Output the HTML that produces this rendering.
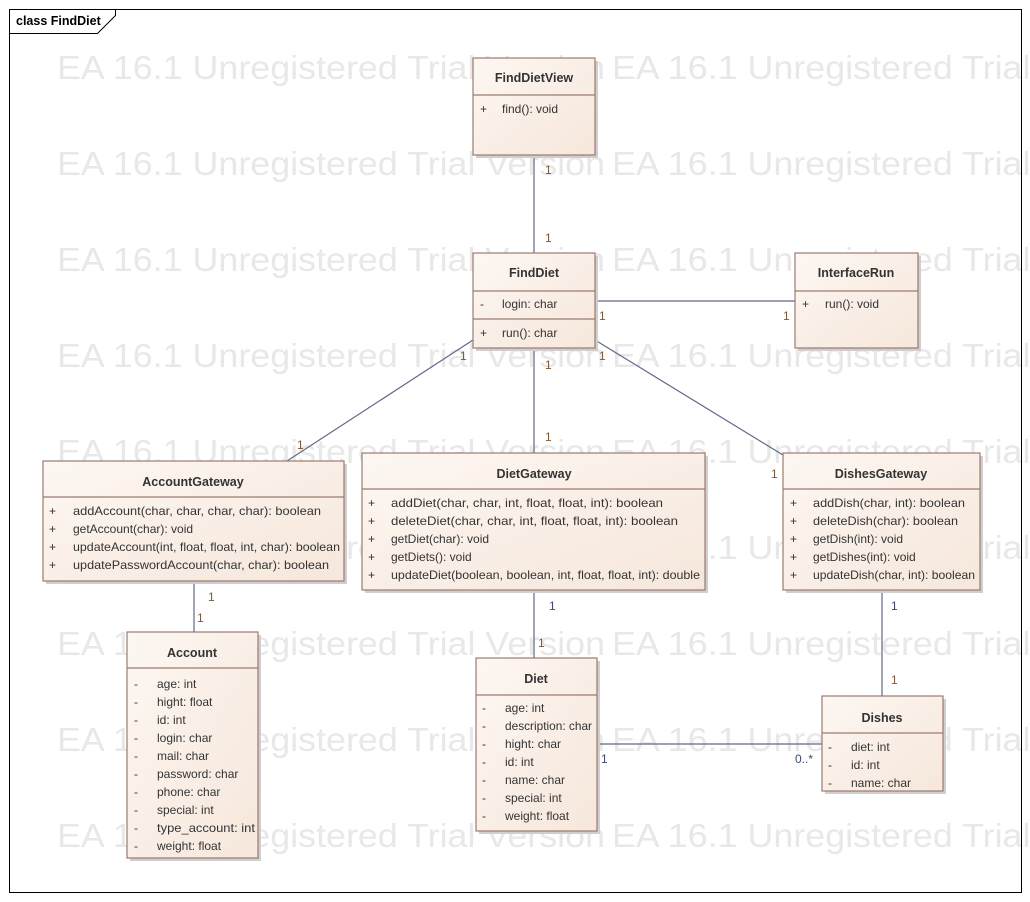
<!DOCTYPE html>
<html><head><meta charset="utf-8"><style>
html,body{margin:0;padding:0;background:#fff;}
svg{display:block;}
text{font-family:"Liberation Sans",sans-serif;}
.wm{font-size:33px;fill:#e8e8e8;}
.n{font-size:12.5px;font-weight:bold;fill:#333;}
.m{font-size:12px;fill:#333;}
.l{font-size:12px;fill:#7a5a3a;}
.lb{font-size:12px;fill:#3a4a70;}
.bx{fill:url(#g);stroke:#9b7b70;stroke-width:1.2;}
.sh{fill:#cfcfcf;}
.sep{stroke:#9b7b70;stroke-width:1.2;}
.c{stroke:#5f6888;stroke-width:1.2;fill:none;}
</style></head><body>
<svg width="1030" height="902" viewBox="0 0 1030 902" xmlns="http://www.w3.org/2000/svg">
<defs><linearGradient id="g" x1="0" y1="0" x2="1" y2="1"><stop offset="0" stop-color="#fdf7f2"/><stop offset="1" stop-color="#f6e7db"/></linearGradient></defs>
<rect x="0" y="0" width="1030" height="902" fill="#fff"/>
<g class="wm">
<text x="57" y="79" textLength="548" lengthAdjust="spacingAndGlyphs">EA 16.1 Unregistered Trial Version</text><text x="612" y="79" textLength="548" lengthAdjust="spacingAndGlyphs">EA 16.1 Unregistered Trial Version</text>
<text x="57" y="175" textLength="548" lengthAdjust="spacingAndGlyphs">EA 16.1 Unregistered Trial Version</text><text x="612" y="175" textLength="548" lengthAdjust="spacingAndGlyphs">EA 16.1 Unregistered Trial Version</text>
<text x="57" y="271" textLength="548" lengthAdjust="spacingAndGlyphs">EA 16.1 Unregistered Trial Version</text><text x="612" y="271" textLength="548" lengthAdjust="spacingAndGlyphs">EA 16.1 Unregistered Trial Version</text>
<text x="57" y="367" textLength="548" lengthAdjust="spacingAndGlyphs">EA 16.1 Unregistered Trial Version</text><text x="612" y="367" textLength="548" lengthAdjust="spacingAndGlyphs">EA 16.1 Unregistered Trial Version</text>
<text x="57" y="463" textLength="548" lengthAdjust="spacingAndGlyphs">EA 16.1 Unregistered Trial Version</text><text x="612" y="463" textLength="548" lengthAdjust="spacingAndGlyphs">EA 16.1 Unregistered Trial Version</text>
<text x="57" y="559" textLength="548" lengthAdjust="spacingAndGlyphs">EA 16.1 Unregistered Trial Version</text><text x="612" y="559" textLength="548" lengthAdjust="spacingAndGlyphs">EA 16.1 Unregistered Trial Version</text>
<text x="57" y="655" textLength="548" lengthAdjust="spacingAndGlyphs">EA 16.1 Unregistered Trial Version</text><text x="612" y="655" textLength="548" lengthAdjust="spacingAndGlyphs">EA 16.1 Unregistered Trial Version</text>
<text x="57" y="751" textLength="548" lengthAdjust="spacingAndGlyphs">EA 16.1 Unregistered Trial Version</text><text x="612" y="751" textLength="548" lengthAdjust="spacingAndGlyphs">EA 16.1 Unregistered Trial Version</text>
<text x="57" y="847" textLength="548" lengthAdjust="spacingAndGlyphs">EA 16.1 Unregistered Trial Version</text><text x="612" y="847" textLength="548" lengthAdjust="spacingAndGlyphs">EA 16.1 Unregistered Trial Version</text>
</g>
<rect x="9.5" y="9.5" width="1012" height="883" fill="none" stroke="#000" stroke-width="1"/>
<path d="M9.5 33.5 H97.5 L115.5 15.5 V9.5" fill="none" stroke="#000" stroke-width="1"/>
<text x="16" y="25" style="font-size:12.5px;font-weight:bold;fill:#000">class FindDiet</text>

<!-- connectors -->
<line class="c" x1="534" y1="155" x2="534" y2="253"/>
<line class="c" x1="595" y1="301" x2="795" y2="301"/>
<line class="c" x1="473" y1="340" x2="287" y2="461"/>
<line class="c" x1="534" y1="348" x2="534" y2="453"/>
<line class="c" x1="595" y1="340" x2="783" y2="455"/>
<line class="c" x1="194" y1="581" x2="194" y2="632"/>
<line class="c" x1="534" y1="590" x2="534" y2="658"/>
<line class="c" x1="882" y1="590" x2="882" y2="696"/>
<line class="c" x1="597" y1="744" x2="822" y2="744"/>
<g class="l">
<text x="545" y="174">1</text><text x="545" y="242">1</text>
<text x="599" y="320">1</text><text x="783" y="320">1</text>
<text x="460" y="360">1</text><text x="297" y="449">1</text>
<text x="545" y="369">1</text><text x="545" y="441">1</text>
<text x="599" y="360">1</text><text x="771" y="478">1</text>
<text x="208" y="601">1</text><text x="197" y="622">1</text>
<text x="538" y="647">1</text><text x="891" y="684">1</text>
</g>
<g class="lb">
<text x="549" y="610">1</text><text x="891" y="610">1</text>
<text x="601" y="763">1</text><text x="795" y="763">0..*</text>
</g>

<!-- FindDietView -->
<rect class="sh" x="476" y="61" width="122" height="97"/>
<rect class="bx" x="473" y="58" width="122" height="97"/>
<line class="sep" x1="473" y1="95" x2="595" y2="95"/>
<text class="n" x="534" y="82" text-anchor="middle">FindDietView</text>
<text class="m" x="480" y="113">+</text><text class="m" x="502" y="113">find(): void</text>

<!-- FindDiet -->
<rect class="sh" x="476" y="256" width="122" height="95"/>
<rect class="bx" x="473" y="253" width="122" height="95"/>
<line class="sep" x1="473" y1="291" x2="595" y2="291"/>
<line class="sep" x1="473" y1="319" x2="595" y2="319"/>
<text class="n" x="534" y="277" text-anchor="middle">FindDiet</text>
<text class="m" x="480" y="308">-</text><text class="m" x="502" y="308">login: char</text>
<text class="m" x="480" y="337">+</text><text class="m" x="502" y="337">run(): char</text>

<!-- InterfaceRun -->
<rect class="sh" x="798" y="256" width="123" height="95"/>
<rect class="bx" x="795" y="253" width="123" height="95"/>
<line class="sep" x1="795" y1="291" x2="918" y2="291"/>
<text class="n" x="856" y="277" text-anchor="middle">InterfaceRun</text>
<text class="m" x="802" y="308">+</text><text class="m" x="825" y="308">run(): void</text>

<!-- AccountGateway -->
<rect class="sh" x="46" y="464" width="301" height="120"/>
<rect class="bx" x="43" y="461" width="301" height="120"/>
<line class="sep" x1="43" y1="497" x2="344" y2="497"/>
<text class="n" x="193" y="486" text-anchor="middle">AccountGateway</text>
<g class="m">
<text x="49" y="515">+</text><text x="73" y="515" textLength="248" lengthAdjust="spacingAndGlyphs">addAccount(char, char, char, char): boolean</text>
<text x="49" y="533">+</text><text x="73" y="533">getAccount(char): void</text>
<text x="49" y="551">+</text><text x="73" y="551" textLength="267" lengthAdjust="spacingAndGlyphs">updateAccount(int, float, float, int, char): boolean</text>
<text x="49" y="569">+</text><text x="73" y="569" textLength="256" lengthAdjust="spacingAndGlyphs">updatePasswordAccount(char, char): boolean</text>
</g>

<!-- DietGateway -->
<rect class="sh" x="365" y="456" width="343" height="137"/>
<rect class="bx" x="362" y="453" width="343" height="137"/>
<line class="sep" x1="362" y1="489" x2="705" y2="489"/>
<text class="n" x="534" y="478" text-anchor="middle">DietGateway</text>
<g class="m">
<text x="368" y="507">+</text><text x="391" y="507" textLength="272" lengthAdjust="spacingAndGlyphs">addDiet(char, char, int, float, float, int): boolean</text>
<text x="368" y="525">+</text><text x="391" y="525" textLength="287" lengthAdjust="spacingAndGlyphs">deleteDiet(char, char, int, float, float, int): boolean</text>
<text x="368" y="543">+</text><text x="391" y="543">getDiet(char): void</text>
<text x="368" y="561">+</text><text x="391" y="561">getDiets(): void</text>
<text x="368" y="579">+</text><text x="391" y="579" textLength="309" lengthAdjust="spacingAndGlyphs">updateDiet(boolean, boolean, int, float, float, int): double</text>
</g>

<!-- DishesGateway -->
<rect class="sh" x="786" y="456" width="197" height="137"/>
<rect class="bx" x="783" y="453" width="197" height="137"/>
<line class="sep" x1="783" y1="489" x2="980" y2="489"/>
<text class="n" x="881" y="478" text-anchor="middle">DishesGateway</text>
<g class="m">
<text x="790" y="507">+</text><text x="813" y="507" textLength="152" lengthAdjust="spacingAndGlyphs">addDish(char, int): boolean</text>
<text x="790" y="525">+</text><text x="813" y="525" textLength="145" lengthAdjust="spacingAndGlyphs">deleteDish(char): boolean</text>
<text x="790" y="543">+</text><text x="813" y="543">getDish(int): void</text>
<text x="790" y="561">+</text><text x="813" y="561">getDishes(int): void</text>
<text x="790" y="579">+</text><text x="813" y="579" textLength="162" lengthAdjust="spacingAndGlyphs">updateDish(char, int): boolean</text>
</g>

<!-- Account -->
<rect class="sh" x="130" y="635" width="131" height="226"/>
<rect class="bx" x="127" y="632" width="131" height="226"/>
<line class="sep" x1="127" y1="668" x2="258" y2="668"/>
<text class="n" x="192" y="657" text-anchor="middle">Account</text>
<g class="m">
<text x="134" y="688">-</text><text x="157" y="688">age: int</text>
<text x="134" y="706">-</text><text x="157" y="706">hight: float</text>
<text x="134" y="724">-</text><text x="157" y="724">id: int</text>
<text x="134" y="742">-</text><text x="157" y="742">login: char</text>
<text x="134" y="760">-</text><text x="157" y="760">mail: char</text>
<text x="134" y="778">-</text><text x="157" y="778">password: char</text>
<text x="134" y="796">-</text><text x="157" y="796">phone: char</text>
<text x="134" y="814">-</text><text x="157" y="814">special: int</text>
<text x="134" y="832">-</text><text x="157" y="832" textLength="98" lengthAdjust="spacingAndGlyphs">type_account: int</text>
<text x="134" y="850">-</text><text x="157" y="850">weight: float</text>
</g>

<!-- Diet -->
<rect class="sh" x="479" y="661" width="121" height="173"/>
<rect class="bx" x="476" y="658" width="121" height="173"/>
<line class="sep" x1="476" y1="695" x2="597" y2="695"/>
<text class="n" x="536" y="683" text-anchor="middle">Diet</text>
<g class="m">
<text x="482" y="712">-</text><text x="505" y="712">age: int</text>
<text x="482" y="730">-</text><text x="505" y="730" textLength="87" lengthAdjust="spacingAndGlyphs">description: char</text>
<text x="482" y="748">-</text><text x="505" y="748">hight: char</text>
<text x="482" y="766">-</text><text x="505" y="766">id: int</text>
<text x="482" y="784">-</text><text x="505" y="784">name: char</text>
<text x="482" y="802">-</text><text x="505" y="802">special: int</text>
<text x="482" y="820">-</text><text x="505" y="820">weight: float</text>
</g>

<!-- Dishes -->
<rect class="sh" x="825" y="699" width="121" height="95"/>
<rect class="bx" x="822" y="696" width="121" height="95"/>
<line class="sep" x1="822" y1="733" x2="943" y2="733"/>
<text class="n" x="882" y="722" text-anchor="middle">Dishes</text>
<g class="m">
<text x="828" y="751">-</text><text x="851" y="751">diet: int</text>
<text x="828" y="769">-</text><text x="851" y="769">id: int</text>
<text x="828" y="787">-</text><text x="851" y="787">name: char</text>
</g>
</svg>
</body></html>
